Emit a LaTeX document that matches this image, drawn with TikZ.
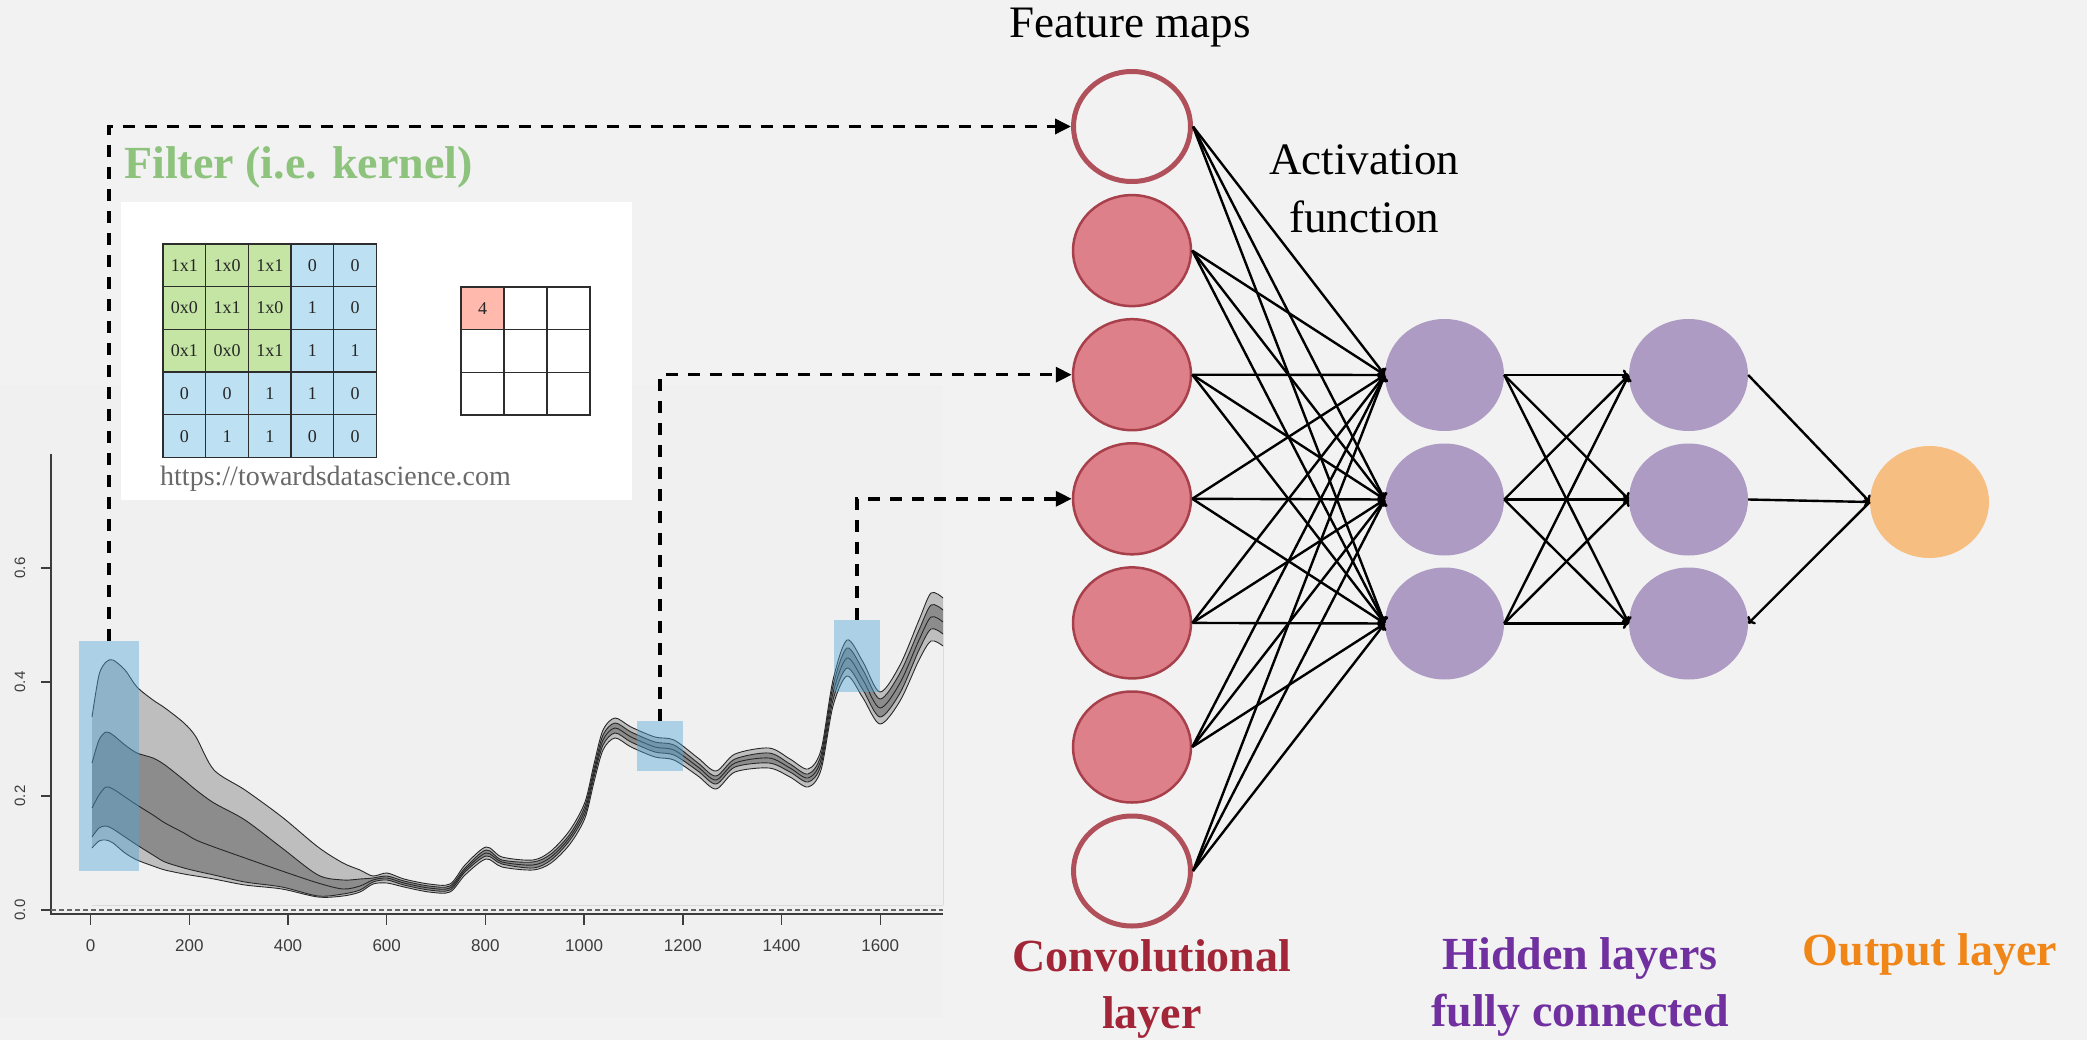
\documentclass[tikz,border=0pt]{standalone}
\usepackage{fontspec}
\setmainfont{Liberation Serif}
\setsansfont{Liberation Sans}
\usetikzlibrary{arrows.meta,shapes.geometric}
\definecolor{pagebg}{RGB}{242,242,242}
\definecolor{plotbg}{RGB}{240,240,240}
\definecolor{lightband}{RGB}{190,190,190}
\definecolor{darkband}{RGB}{140,140,140}
\definecolor{curveline}{RGB}{40,40,40}
\definecolor{hlblue}{RGB}{80,166,214}
\definecolor{axisgray}{RGB}{60,60,60}
\definecolor{convring}{RGB}{176,80,90}
\definecolor{convstroke}{RGB}{168,64,76}
\definecolor{convfill}{RGB}{222,128,138}
\definecolor{hidfill}{RGB}{173,155,195}
\definecolor{outfill}{RGB}{247,190,130}
\definecolor{convtext}{RGB}{163,38,56}
\definecolor{hidtext}{RGB}{112,48,160}
\definecolor{outtext}{RGB}{240,134,24}
\definecolor{filtertext}{RGB}{141,195,125}
\definecolor{kgreen}{RGB}{197,229,165}
\definecolor{kblue}{RGB}{189,224,242}
\definecolor{kpink}{RGB}{255,185,173}
\definecolor{gridline}{RGB}{45,45,45}
\definecolor{urlgray}{RGB}{105,105,105}
\tikzset{
  fmopen/.style={ellipse, draw=convring, line width=5pt, minimum width=117pt, minimum height=110pt, inner sep=0pt},
  fmfill/.style={ellipse, draw=convstroke, fill=convfill, line width=2.5pt, minimum width=118pt, minimum height=111pt, inner sep=0pt},
  hid/.style={ellipse, fill=hidfill, minimum width=119pt, minimum height=112pt, inner sep=0pt},
  outn/.style={ellipse, fill=outfill, minimum width=119pt, minimum height=112pt, inner sep=0pt},
  conn/.style={line width=2.4pt, -{To[length=6pt,width=11pt]}},
  dashlink/.style={line width=3.5pt, dash pattern=on 12pt off 10pt, -{Triangle[length=16pt,width=15pt]}},
  hlbox/.style={fill=hlblue, fill opacity=0.42, inner sep=0pt, draw=none},
  cell/.style={draw=gridline, line width=1.3pt, minimum width=42.7pt, minimum height=42.7pt, inner sep=0pt, text=black!85, font=\fontsize{18pt}{20pt}\selectfont},
  ocell/.style={draw=gridline, line width=1.3pt, minimum width=43pt, minimum height=42.7pt, inner sep=0pt, text=black!85, font=\fontsize{18pt}{20pt}\selectfont},
  bigtext/.style={font=\fontsize{45pt}{58pt}\selectfont, text=black, inner sep=0pt, align=center},
  layertext/.style={font=\fontsize{46pt}{57pt}\selectfont\bfseries, inner sep=0pt, align=center},
  xtick/.style={font=\sffamily\fontsize{17pt}{19pt}\selectfont, text=axisgray, inner sep=0pt},
  ytick/.style={font=\sffamily\fontsize{15pt}{17pt}\selectfont, text=axisgray, inner sep=0pt, rotate=90},
  curve/.style={draw=curveline, line width=0.9pt}
}
\begin{document}
\begin{tikzpicture}[x=1pt, y=-1pt]
\useasboundingbox (0,0) rectangle (2087,1040);
\fill[pagebg] (0,0) rectangle (2087,1040);
\fill[plotbg] (0,385) rectangle (943,1017);

% ---------- spectrum bands ----------
\begin{scope}
\clip (51,440) rectangle (943,905);
\fill[lightband] (92,905) -- plot[smooth, tension=0.5] coordinates {(92,717) (99,675) (106,662) (113,660) (125,670) (137,687) (153,700) (165,708) (184,723) (196,737) (214,770) (245,790) (282,817) (318,847) (343,863) (360,870) (373,876) (387,873) (404,879) (429,884) (450,884) (465,865) (486,847) (502,857) (533,860) (551,851) (570,830) (585,802) (594,764) (603,730) (615,718) (631,727) (655,737) (674,740) (698,758) (716,771) (735,754) (769,748) (790,759) (808,769) (821,750) (833,680) (847,640) (863,662) (880,692) (900,665) (919,620) (931,593) (943,598)} -- (943,905) -- cycle;
\fill[darkband] (92,905) -- plot[smooth, tension=0.5] coordinates {(92,763) (99,740) (106,732) (113,735) (125,745) (137,753) (153,758) (165,765) (184,780) (196,790) (214,803) (245,820) (282,848) (318,875) (343,880) (360,879) (373,878) (387,876) (404,881) (429,886) (450,886) (465,868) (486,850) (502,860) (533,862) (551,854) (570,834) (585,806) (594,769) (603,735) (615,723) (631,732) (655,742) (674,745) (698,763) (716,776) (735,759) (769,753) (790,764) (808,774) (821,755) (833,686) (847,648) (863,670) (880,699) (900,673) (919,630) (931,605) (943,610)} -- (943,905) -- cycle;
\fill[lightband] (92,905) -- plot[smooth, tension=0.5] coordinates {(92,837) (99,828) (106,826) (113,829) (125,837) (137,845) (153,855) (165,862) (184,868) (196,871) (214,875) (245,882) (282,887) (318,896) (343,894) (360,890) (373,882) (387,880) (404,885) (429,890) (450,890) (465,872) (486,856) (502,864) (533,868) (551,860) (570,840) (585,814) (594,777) (603,745) (615,733) (631,742) (655,752) (674,755) (698,771) (716,784) (735,767) (769,763) (790,772) (808,782) (821,765) (833,700) (847,668) (863,690) (880,717) (900,693) (919,650) (931,629) (943,634)} -- (943,905) -- cycle;
\fill[plotbg] (92,905) -- plot[smooth, tension=0.5] coordinates {(92,848) (99,841) (106,840) (113,843) (125,853) (137,860) (153,866) (165,870) (184,874) (196,876) (214,879) (245,885) (282,889) (318,897) (343,896) (360,892) (373,884) (387,883) (404,887) (429,892) (450,892) (465,875) (486,859) (502,867) (533,870) (551,863) (570,844) (585,818) (594,782) (603,750) (615,738) (631,747) (655,757) (674,760) (698,776) (716,789) (735,772) (769,768) (790,777) (808,787) (821,770) (833,706) (847,676) (863,698) (880,724) (900,701) (919,660) (931,641) (943,646)} -- (943,905) -- cycle;
% curve lines
\draw[curve] plot[smooth, tension=0.5] coordinates {(92,717) (99,675) (106,662) (113,660) (125,670) (137,687) (153,700) (165,708) (184,723) (196,737) (214,770) (245,790) (282,817) (318,847) (343,863) (360,870) (373,876) (387,873) (404,879) (429,884) (450,884) (465,865) (486,847) (502,857) (533,860) (551,851) (570,830) (585,802) (594,764) (603,730) (615,718) (631,727) (655,737) (674,740) (698,758) (716,771) (735,754) (769,748) (790,759) (808,769) (821,750) (833,680) (847,640) (863,662) (880,692) (900,665) (919,620) (931,593) (943,598)};
\draw[curve] plot[smooth, tension=0.5] coordinates {(92,763) (99,740) (106,732) (113,735) (125,745) (137,753) (153,758) (165,765) (184,780) (196,790) (214,803) (245,820) (282,848) (318,875) (343,880) (360,879) (373,878) (387,876) (404,881) (429,886) (450,886) (465,868) (486,850) (502,860) (533,862) (551,854) (570,834) (585,806) (594,769) (603,735) (615,723) (631,732) (655,742) (674,745) (698,763) (716,776) (735,759) (769,753) (790,764) (808,774) (821,755) (833,686) (847,648) (863,670) (880,699) (900,673) (919,630) (931,605) (943,610)};
\draw[curve] plot[smooth, tension=0.5] coordinates {(92,808) (99,795) (106,787) (113,789) (125,797) (137,805) (153,815) (165,823) (184,833) (196,840) (214,847) (245,858) (282,871) (318,883) (343,889) (360,886) (373,880) (387,878) (404,883) (429,888) (450,888) (465,870) (486,853) (502,862) (533,865) (551,857) (570,837) (585,810) (594,773) (603,740) (615,728) (631,737) (655,747) (674,750) (698,767) (716,780) (735,763) (769,758) (790,768) (808,778) (821,760) (833,693) (847,658) (863,680) (880,708) (900,683) (919,640) (931,617) (943,622)};
\draw[curve] plot[smooth, tension=0.5] coordinates {(92,837) (99,828) (106,826) (113,829) (125,837) (137,845) (153,855) (165,862) (184,868) (196,871) (214,875) (245,882) (282,887) (318,896) (343,894) (360,890) (373,882) (387,880) (404,885) (429,890) (450,890) (465,872) (486,856) (502,864) (533,868) (551,860) (570,840) (585,814) (594,777) (603,745) (615,733) (631,742) (655,752) (674,755) (698,771) (716,784) (735,767) (769,763) (790,772) (808,782) (821,765) (833,700) (847,668) (863,690) (880,717) (900,693) (919,650) (931,629) (943,634)};
\draw[curve] plot[smooth, tension=0.5] coordinates {(92,848) (99,841) (106,840) (113,843) (125,853) (137,860) (153,866) (165,870) (184,874) (196,876) (214,879) (245,885) (282,889) (318,897) (343,896) (360,892) (373,884) (387,883) (404,887) (429,892) (450,892) (465,875) (486,859) (502,867) (533,870) (551,863) (570,844) (585,818) (594,782) (603,750) (615,738) (631,747) (655,757) (674,760) (698,776) (716,789) (735,772) (769,768) (790,777) (808,787) (821,770) (833,706) (847,676) (863,698) (880,724) (900,701) (919,660) (931,641) (943,646)};
\end{scope}

% ---------- axes ----------
\draw[axisgray, line width=1.6pt] (51,454) -- (51,915);
\draw[axisgray, line width=1.6pt] (51,914) -- (943,914);
\draw[black!60, line width=2pt, dash pattern=on 5pt off 3pt] (51,910) -- (943,910);
\foreach \v/\yy in {0.0/910, 0.2/796, 0.4/682, 0.6/568}{
  \draw[axisgray, line width=1.4pt] (41,\yy) -- (51,\yy);
  \node[ytick] (yl\yy) at (20,\yy) {\v};
}
\foreach \v [count=\k from 0] in {0,200,400,600,800,1000,1200,1400,1600}{
  \draw[axisgray, line width=1.4pt] ({90.6+98.7*\k},914) -- ({90.6+98.7*\k},925);
  \node[xtick] (xl\k) at ({90.6+98.7*\k},946) {\v};
}

% ---------- highlight boxes ----------
\node[hlbox, minimum width=60pt, minimum height=230pt] (hl1) at (109,756) {};
\node[hlbox, minimum width=46pt, minimum height=50pt] (hl2) at (660,746) {};
\node[hlbox, minimum width=46pt, minimum height=72pt] (hl3) at (857,656) {};

% ---------- filter illustration ----------
\node[fill=white, minimum width=511pt, minimum height=298pt, inner sep=0pt] (filterbox) at (376.5,351) {};
\foreach \r/\c/\t in {1/1/1x1, 1/2/1x0, 1/3/1x1, 2/1/0x0, 2/2/1x1, 2/3/1x0, 3/1/0x1, 3/2/0x0, 3/3/1x1}
  \node[cell, fill=kgreen] (g\r\c) at ({163+42.7*(\c-0.5)}, {244+42.7*(\r-0.5)}) {\t};
\foreach \r/\c/\t in {1/4/0, 1/5/0, 2/4/1, 2/5/0, 3/4/1, 3/5/1, 4/1/0, 4/2/0, 4/3/1, 4/4/1, 4/5/0, 5/1/0, 5/2/1, 5/3/1, 5/4/0, 5/5/0}
  \node[cell, fill=kblue] (g\r\c) at ({163+42.7*(\c-0.5)}, {244+42.7*(\r-0.5)}) {\t};
\node[ocell, fill=kpink] (o11) at ({461+43*0.5}, {287+42.7*0.5}) {4};
\foreach \r/\c in {1/2, 1/3, 2/1, 2/2, 2/3, 3/1, 3/2, 3/3}
  \node[ocell, fill=white] (o\r\c) at ({461+43*(\c-0.5)}, {287+42.7*(\r-0.5)}) {};
\node[anchor=base west, inner sep=0pt, text=urlgray, font=\fontsize{28pt}{30pt}\selectfont] (url) at (160,485) {https://towardsdatascience.com};
\node[anchor=base west, inner sep=0pt, text=filtertext, font=\fontsize{46pt}{50pt}\selectfont\bfseries] (filtertitle) at (124,179) {Filter (i.e. kernel)};

% ---------- network nodes ----------
\node[fmopen] (fm1) at (1132,126.5) {};
\node[fmfill] (fm2) at (1132,250.6) {};
\node[fmfill] (fm3) at (1132,374.7) {};
\node[fmfill] (fm4) at (1132,498.8) {};
\node[fmfill] (fm5) at (1132,622.9) {};
\node[fmfill] (fm6) at (1132,747) {};
\node[fmopen] (fm7) at (1132,871) {};
\node[hid] (ha1) at (1444.5,375) {};
\node[hid] (ha2) at (1444.5,499.5) {};
\node[hid] (ha3) at (1444.5,623.5) {};
\node[hid] (hb1) at (1688.5,375) {};
\node[hid] (hb2) at (1688.5,499.5) {};
\node[hid] (hb3) at (1688.5,623.5) {};
\node[outn] (out) at (1929.5,502) {};

% connections
\foreach \i in {1,...,7}
  \foreach \j in {1,2,3}
    \draw[conn] (fm\i.east) -- (ha\j.west);
\foreach \i in {1,2,3}
  \foreach \j in {1,2,3}
    \draw[conn] (ha\i.east) -- (hb\j.west);
\draw[conn] (hb1.east) -- (out.west);
\draw[conn] (hb2.east) -- (out.west);
\draw[conn] (out.west) -- (hb3.east);

% dashed links
\draw[dashlink] (hl1.north) |- (fm1.west);
\draw[dashlink] (hl2.north) |- (fm3.west);
\draw[dashlink] (hl3.north) |- (fm4.west);

% ---------- labels ----------
\node[bigtext, anchor=base] (fmlabel) at (1130,38) {Feature maps};
\node[bigtext] (actlabel) at (1364,189) {Activation\\function};
\node[layertext, text=convtext] (convlabel) at (1152,989) {Convolutional\\layer};
\node[layertext, text=hidtext] (hidlabel) at (1580,986.5) {Hidden layers\\fully connected};
\node[layertext, text=outtext, anchor=base] (outlabel) at (1930,965) {Output layer};
\end{tikzpicture}
\end{document}
